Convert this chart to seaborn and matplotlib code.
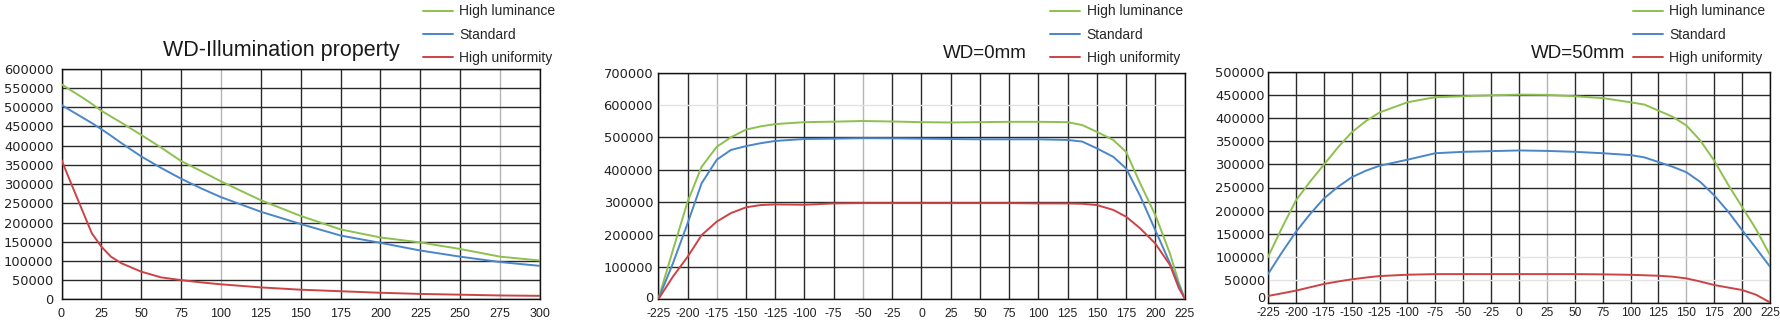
import numpy as np
import pandas as pd
import seaborn as sns
import matplotlib
matplotlib.use("Agg")
import matplotlib.pyplot as plt
from matplotlib.transforms import ScaledTranslation

sns.set_theme(style="white")
plt.rcParams["font.family"] = ["Liberation Sans", "DejaVu Sans"]

MODES = ["High luminance", "Standard", "High uniformity"]
COLORS = {"High luminance": "#8dc04f", "Standard": "#4a86c8", "High uniformity": "#cc4346"}

# --- WD vs illumination (centre) ---
wd_x = [0, 6, 12.5, 19, 25, 31, 37.5, 50, 62.5, 75, 87.5, 100,
        125, 150, 175, 200, 225, 250, 275, 300]
wd_high_lum = [560000, 544000, 527000, 509000, 491000, 476000, 460000, 428000,
               395000, 360000, 334000, 307000, 258000, 217000, 182000, 161000,
               148000, 131000, 111000, 101000]
wd_standard = [506000, 491000, 475000, 459000, 443000, 426000, 407000, 372000,
               342000, 314000, 289000, 266000, 228000, 196000, 166000, 147000,
               127000, 111000, 97000, 87000]
wd_high_uni = [363000, 302000, 237000, 172000, 137000, 111000, 94000, 72000,
               57000, 50000, 44000, 39000, 31000, 25000, 21000, 17000,
               14000, 12000, 10000, 9000]

# --- Profile at WD = 0 mm ---
p0_x = [-225, -212.5, -200, -188, -175, -163, -150, -137.5, -125, -100, -75,
        -50, -25, 0, 25, 50, 75, 100, 125, 137.5, 150, 164, 175, 187, 200,
        212.5, 220, 225]
p0_high_lum = [0, 152000, 301000, 409000, 471000, 500000, 524000, 534000,
               541000, 547000, 548500, 550500, 549000, 547000, 546000, 547000,
               548000, 548000, 547000, 538000, 517000, 492000, 455000, 358000,
               260000, 141000, 52000, 3000]
p0_standard = [0, 111000, 234000, 358000, 431000, 461000, 473000, 482000,
               489000, 495000, 496000, 497500, 497000, 496000, 495000, 494000,
               494000, 494000, 492000, 487000, 466000, 440000, 404000, 319000,
               213000, 111000, 44000, 3000]
p0_high_uni = [0, 70000, 131000, 198000, 240000, 266000, 284000, 291000,
               293000, 292000, 296000, 297000, 297000, 297000, 297000, 297000,
               297000, 296000, 296000, 295000, 291000, 276000, 255000, 219000,
               172000, 106000, 35000, 3000]

# --- Profile at WD = 50 mm ---
p50_x = [-225, -212.5, -200, -187.5, -175, -162.5, -150, -137.5, -125, -100,
         -75, -50, -25, 0, 25, 50, 75, 100, 112.5, 125, 137.5, 150, 162.5,
         175, 187.5, 200, 212.5, 225]
p50_high_lum = [100000, 163000, 222000, 262000, 299000, 336000, 369000, 393000,
                412000, 434000, 445000, 447000, 449000, 450500, 450000, 447000,
                443000, 434000, 429000, 416000, 403000, 384000, 351500, 308000,
                256000, 208000, 160000, 104000]
p50_standard = [63000, 110000, 154000, 192000, 226000, 251000, 272000, 286000,
                297000, 310000, 324000, 327000, 328500, 330000, 329000, 327000,
                324000, 320000, 315000, 305000, 295000, 283000, 262000, 233000,
                198000, 158000, 119000, 79000]
p50_high_uni = [15800, 21500, 27300, 34500, 41600, 47000, 51700, 55500, 58800,
                61700, 63000, 63000, 63000, 63000, 63000, 63000, 62500, 61500,
                60500, 59500, 57500, 53800, 47000, 39500, 34000, 28700, 18500,
                2000]


def long_frame(x, series):
    rows = []
    for mode, vals in zip(MODES, series):
        rows.append(pd.DataFrame({"pos": x, "lux": vals, "mode": mode}))
    return pd.concat(rows, ignore_index=True)


W, H = 1780, 327
fig = plt.figure(figsize=(W / 100, H / 100), dpi=100)


def px_axes(left, top, right, bottom):
    return fig.add_axes([left / W, 1 - bottom / H, (right - left) / W, (bottom - top) / H])


panels = [
    dict(rect=(61.5, 68.9, 540, 299.3), x=wd_x,
         series=(wd_high_lum, wd_standard, wd_high_uni),
         xlim=(0, 300), xticks=np.arange(0, 301, 25),
         ylim=(0, 600000), yticks=np.arange(0, 600001, 50000),
         xsize=9.0, xpad=6.0, ypad=5.8, zero_lift=0,
         title="WD-Illumination property", title_xy=(281, 56), title_size=15.5,
         legend_x=422.9, light_x=[100, 275], light_y=[]),
    dict(rect=(658.3, 72.6, 1184.6, 299.3), x=p0_x,
         series=(p0_high_lum, p0_standard, p0_high_uni),
         xlim=(-225, 225), xticks=np.arange(-225, 226, 25),
         ylim=(0, 700000), yticks=np.arange(0, 700001, 100000),
         xsize=8.8, xpad=6.0, ypad=3.8, zero_lift=1.5,
         title="WD=0mm", title_xy=(985, 58.3), title_size=13.5,
         legend_x=1050.4, light_x=[-175, -50], light_y=[600000]),
    dict(rect=(1268, 71.7, 1770, 303.3), x=p50_x,
         series=(p50_high_lum, p50_standard, p50_high_uni),
         xlim=(-225, 225), xticks=np.arange(-225, 226, 25),
         ylim=(0, 500000), yticks=np.arange(0, 500001, 50000),
         xsize=8.6, xpad=2.6, ypad=2.2, zero_lift=4.8,
         title="WD=50mm", title_xy=(1578, 58.3), title_size=13.5,
         legend_x=1632.7, light_x=[25, 150], light_y=[100000, 50000]),
]

for p in panels:
    ax = px_axes(*p["rect"])
    df = long_frame(p["x"], p["series"])
    sns.lineplot(data=df, x="pos", y="lux", hue="mode", hue_order=MODES,
                 palette=COLORS, linewidth=1.4, ax=ax, legend=True, zorder=3)
    ax.set_xlim(*p["xlim"])
    ax.set_ylim(*p["ylim"])
    ax.set_xticks(p["xticks"])
    ax.set_yticks(p["yticks"])
    ax.set_xticklabels([f"{int(v)}" for v in p["xticks"]],
                       fontsize=p["xsize"], color="#222222")
    ax.set_yticklabels([f"{int(v)}" for v in p["yticks"]],
                       fontsize=9.4, color="#222222",
                       family=["DejaVu Sans"])
    ax.tick_params(axis="both", length=0)
    ax.tick_params(axis="x", pad=p["xpad"])
    ax.tick_params(axis="y", pad=p["ypad"])
    ax.set_xlabel("")
    ax.set_ylabel("")
    # the "0" label sits slightly above the baseline
    if p["zero_lift"]:
        zero_lbl = ax.get_yticklabels()[0]
        zero_lbl.set_transform(zero_lbl.get_transform() +
                               ScaledTranslation(0, p["zero_lift"] / 72, fig.dpi_scale_trans))
    ax.grid(True, color="#2a2a2a", linewidth=1.0)
    for val, gl in zip(p["xticks"], ax.get_xgridlines()):
        if val in p["light_x"]:
            gl.set_color("#b5b5b5")
    for val, gl in zip(p["yticks"], ax.get_ygridlines()):
        if val in p["light_y"]:
            gl.set_color("#e2e2e2")
    for s in ax.spines.values():
        s.set_visible(True)
        s.set_color("#111111")
        s.set_linewidth(1.0)
    ax.set_facecolor("white")

    handles, labels = ax.get_legend_handles_labels()
    ax.legend(handles, labels, loc="upper left",
              bbox_to_anchor=(p["legend_x"] / W, 1 - 4.5 / H),
              bbox_transform=fig.transFigure, frameon=False,
              fontsize=10, handlelength=2.16, handletextpad=0.45,
              labelspacing=0.67, borderpad=0, borderaxespad=0)

    fig.text(p["title_xy"][0] / W, 1 - p["title_xy"][1] / H, p["title"],
             ha="center", va="baseline", fontsize=p["title_size"],
             color="#1a1a1a")

fig.savefig("out.png", dpi=100, facecolor="white")
